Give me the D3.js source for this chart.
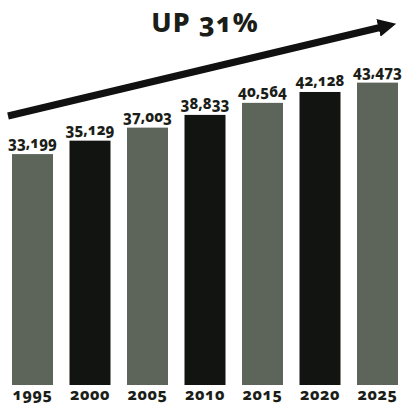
<!DOCTYPE html>
<html>
<head>
<meta charset="utf-8">
<script src="https://cdn.jsdelivr.net/npm/d3@7"></script>
<style>
  html, body { margin: 0; padding: 0; background: #fff; }
  svg { display: block; }
  text { font-family: "Noto Sans", "Open Sans", sans-serif; font-weight: 800; fill: #1b1e18; font-variant-numeric: oldstyle-nums; }
</style>
</head>
<body>
<script>
// Population by year
const years = ["1995", "2000", "2005", "2010", "2015", "2020", "2025"];
const values = [33199, 35129, 37003, 38833, 40564, 42128, 43473];
const barShades = ["light", "dark", "light", "dark", "light", "dark", "light"];
const headline = "UP 31%";

const W = 404, H = 405;
const svg = d3.select("body").append("svg").attr("width", W).attr("height", H);

const x = d3.scaleBand().domain(years).range([12, 398]).paddingInner(0.287).paddingOuter(0);
const y = d3.scaleLinear().domain([0, 45000]).range([385, 72]);
const shade = d3.scaleOrdinal().domain(["light", "dark"]).range(["#5d645a", "#121411"]);
const fmt = d3.format(",");

// Bars
svg.append("g").selectAll("rect").data(years).join("rect")
  .attr("x", d => x(d))
  .attr("width", x.bandwidth())
  .attr("y", (d, i) => y(values[i]))
  .attr("height", (d, i) => y(0) - y(values[i]))
  .attr("fill", (d, i) => shade(barShades[i]));

// Value labels
svg.append("g").selectAll("text").data(years).join("text")
  .attr("x", d => x(d) + x.bandwidth() / 2)
  .attr("y", (d, i) => y(values[i]) - 6)
  .attr("text-anchor", "middle")
  .attr("font-size", 15)
  .text((d, i) => fmt(values[i]));

// Year axis
const xAxis = svg.append("g").attr("transform", "translate(0,400)")
  .call(d3.axisBottom(x).tickSize(0).tickPadding(0));
xAxis.select(".domain").remove();
xAxis.selectAll("text").attr("font-size", 16).attr("dy", 0)
  .attr("fill", "#1b1e18").attr("letter-spacing", 0.5);

// Trend arrow
svg.append("defs").append("marker")
  .attr("id", "head").attr("viewBox", "0 0 10 10")
  .attr("refX", 2).attr("refY", 5)
  .attr("markerWidth", 2.6).attr("markerHeight", 2.6)
  .attr("orient", "auto")
  .append("path").attr("d", "M0,0 L10,5 L0,10 Z").attr("fill", "#111");

svg.append("line")
  .attr("x1", 8).attr("y1", 116).attr("x2", 382).attr("y2", 27)
  .attr("stroke", "#111").attr("stroke-width", 7)
  .attr("marker-end", "url(#head)");

// Headline
svg.append("text")
  .attr("x", 205).attr("y", 32)
  .attr("text-anchor", "middle")
  .attr("font-size", 27)
  .attr("letter-spacing", 1)
  .text(headline);
</script>
</body>
</html>
